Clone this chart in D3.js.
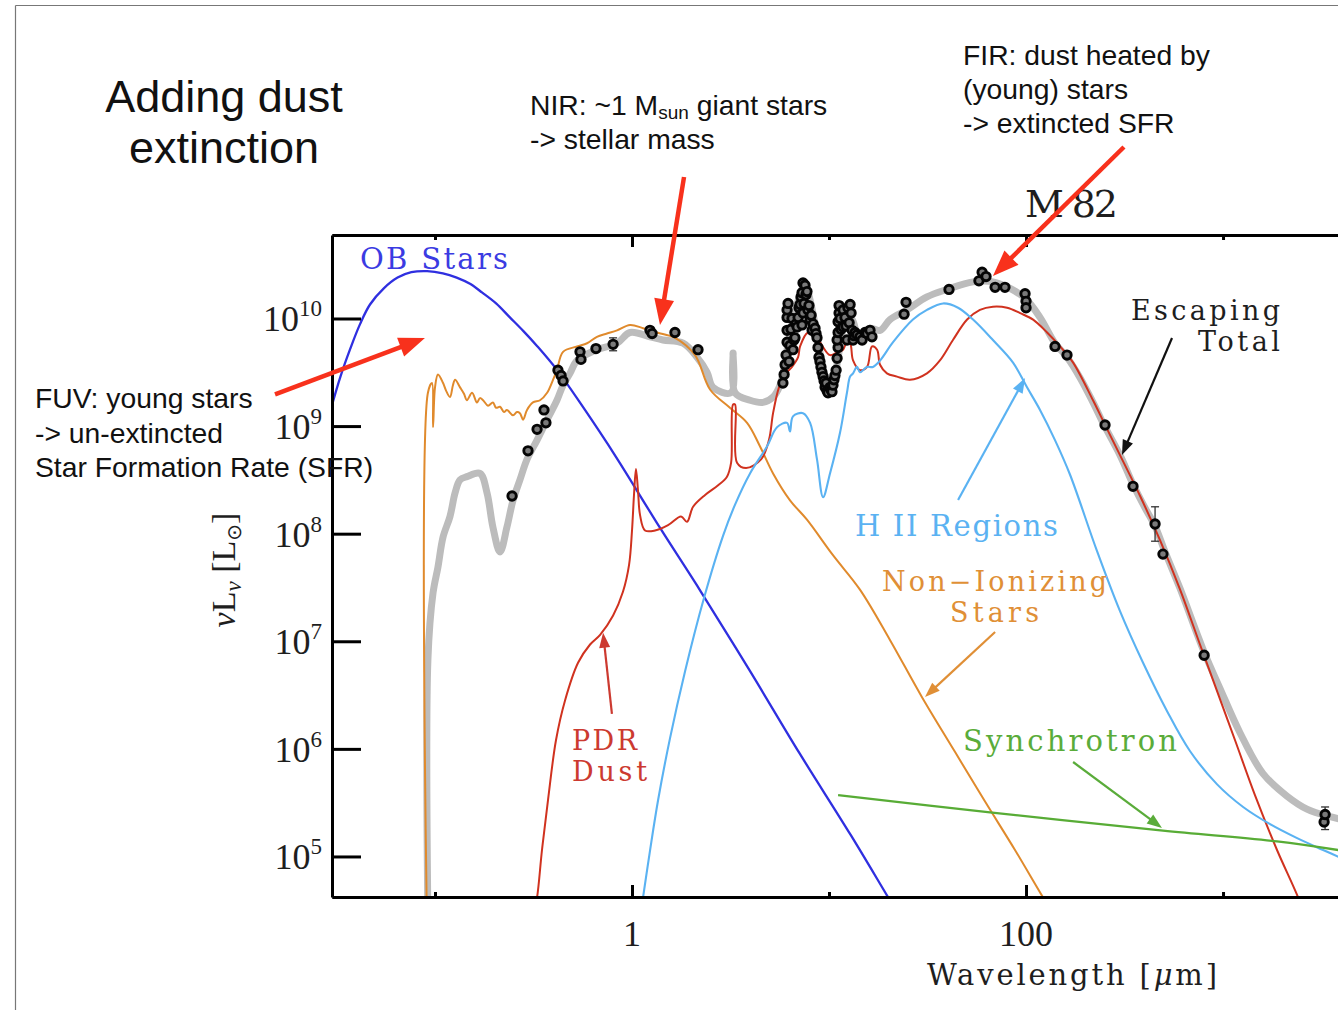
<!DOCTYPE html>
<html>
<head>
<meta charset="utf-8">
<script src="https://cdn.jsdelivr.net/npm/d3@7"></script>
<style>
  html, body { margin: 0; padding: 0; background: #fff; }
  svg { display: block; }
</style>
</head>
<body>
<svg id="chart" width="1338" height="1010"></svg>
<script>
// Spectral energy distribution of M 82.
// Every pair is [log10 wavelength (µm), log10 νLν (L☉)].

const obStars = [
  [-1.53, 9.15], [-1.48, 9.46], [-1.43, 9.72], [-1.38, 9.95], [-1.33, 10.13], [-1.26, 10.28],
  [-1.19, 10.38], [-1.12, 10.43], [-1.04, 10.44], [-0.96, 10.42], [-0.89, 10.38], [-0.82, 10.32],
  [-0.76, 10.24], [-0.69, 10.14], [-0.62, 10.01], [-0.55, 9.88], [-0.48, 9.74], [-0.38, 9.52],
  [-0.25, 9.18], [-0.08, 8.71], [0.14, 8.06], [0.35, 7.46], [0.60, 6.72], [0.85, 5.96],
  [1.11, 5.20], [1.30, 4.62], [1.46, 4.13]
];

const nonIonizingStars = [
  [-1.041, 4.41], [-1.036, 9.31], [-1.015, 9.40], [-1.010, 8.99], [-1.000, 9.36], [-0.985, 9.48],
  [-0.959, 9.40], [-0.944, 9.33], [-0.924, 9.27], [-0.909, 9.38], [-0.898, 9.43], [-0.873, 9.36],
  [-0.853, 9.30], [-0.838, 9.24], [-0.812, 9.31], [-0.787, 9.22], [-0.772, 9.26], [-0.756, 9.24],
  [-0.731, 9.19], [-0.706, 9.22], [-0.690, 9.17], [-0.670, 9.18], [-0.650, 9.13], [-0.635, 9.15],
  [-0.604, 9.10], [-0.584, 9.13], [-0.569, 9.12], [-0.553, 9.06], [-0.533, 9.15], [-0.503, 9.22],
  [-0.467, 9.24], [-0.431, 9.31], [-0.401, 9.43], [-0.381, 9.52], [-0.350, 9.69], [-0.279, 9.74],
  [-0.228, 9.77], [-0.178, 9.83], [-0.127, 9.86], [-0.076, 9.89], [-0.010, 9.94], [0.056, 9.91],
  [0.127, 9.87], [0.218, 9.82], [0.320, 9.66], [0.396, 9.34], [0.497, 9.17], [0.584, 9.03],
  [0.650, 8.81], [0.716, 8.56], [0.802, 8.31], [0.888, 8.13], [1.020, 7.80], [1.157, 7.48],
  [1.310, 7.01], [1.472, 6.48], [1.640, 5.97], [1.792, 5.51], [1.944, 5.06], [2.086, 4.62],
  [2.147, 4.44]
];

const pdrDust = [
  [-0.497, 4.50], [-0.482, 4.62], [-0.457, 5.06], [-0.426, 5.53], [-0.386, 6.08], [-0.340, 6.45],
  [-0.274, 6.80], [-0.213, 6.97], [-0.162, 7.06], [-0.096, 7.24], [-0.046, 7.46], [-0.015, 7.71],
  [0.000, 8.03], [0.010, 8.36], [0.020, 8.60], [0.030, 8.41], [0.041, 8.17], [0.066, 8.03],
  [0.117, 8.03], [0.183, 8.08], [0.249, 8.16], [0.279, 8.11], [0.310, 8.25], [0.371, 8.36],
  [0.437, 8.45], [0.482, 8.53], [0.503, 8.66], [0.513, 9.20], [0.523, 9.20], [0.533, 8.66],
  [0.579, 8.61], [0.655, 8.69], [0.695, 8.87], [0.716, 9.12], [0.746, 9.36], [0.777, 9.48],
  [0.812, 9.55], [0.843, 9.64], [0.853, 9.74], [0.893, 9.87], [0.929, 9.85], [0.964, 9.75],
  [1.005, 9.66], [1.046, 9.69], [1.071, 9.71], [1.091, 9.78], [1.107, 9.77], [1.122, 9.61],
  [1.157, 9.52], [1.193, 9.55], [1.218, 9.74], [1.244, 9.71], [1.259, 9.57], [1.294, 9.49],
  [1.345, 9.46], [1.411, 9.43], [1.497, 9.49], [1.563, 9.61], [1.629, 9.80], [1.701, 9.99],
  [1.766, 10.08], [1.832, 10.11], [1.904, 10.10], [1.970, 10.05], [2.036, 9.99], [2.107, 9.87],
  [2.173, 9.74], [2.239, 9.59], [2.340, 9.24], [2.396, 9.03], [2.477, 8.73], [2.579, 8.35],
  [2.680, 7.94], [2.782, 7.48], [2.883, 6.97], [2.959, 6.59], [3.061, 6.08], [3.162, 5.57],
  [3.274, 5.06], [3.381, 4.62], [3.442, 4.32]
];

const hiiRegions = [
  [0.046, 4.50], [0.056, 4.62], [0.091, 5.05], [0.132, 5.52], [0.193, 6.10], [0.269, 6.72],
  [0.365, 7.40], [0.462, 7.98], [0.523, 8.27], [0.599, 8.56], [0.685, 8.81], [0.736, 8.99],
  [0.787, 9.03], [0.802, 8.95], [0.817, 9.09], [0.868, 9.12], [0.904, 9.03], [0.939, 8.69],
  [0.970, 8.34], [1.005, 8.56], [1.056, 8.94], [1.091, 9.31], [1.107, 9.46], [1.122, 9.49],
  [1.142, 9.55], [1.157, 9.50], [1.193, 9.55], [1.223, 9.55], [1.259, 9.61], [1.325, 9.78],
  [1.426, 9.99], [1.497, 10.08], [1.579, 10.14], [1.655, 10.10], [1.731, 9.99], [1.832, 9.80],
  [1.934, 9.59], [2.005, 9.36], [2.071, 9.15], [2.147, 8.87], [2.223, 8.55], [2.360, 7.84],
  [2.477, 7.28], [2.594, 6.80], [2.716, 6.35], [2.832, 5.98], [2.970, 5.67], [3.102, 5.46],
  [3.239, 5.30], [3.376, 5.17], [3.508, 5.06], [3.619, 4.97]
];

const synchrotron = [
  [1.046, 5.57], [1.817, 5.41], [2.695, 5.24], [3.274, 5.14], [3.619, 5.05]
];

const escapingTotal = [
  [-1.036, 4.41], [-1.036, 6.83], [-1.010, 7.45], [-0.985, 7.69], [-0.959, 7.97], [-0.924, 8.16],
  [-0.898, 8.38], [-0.873, 8.50], [-0.838, 8.53], [-0.772, 8.56], [-0.736, 8.38], [-0.706, 8.06],
  [-0.670, 7.83], [-0.635, 8.06], [-0.604, 8.31], [-0.569, 8.50], [-0.533, 8.69], [-0.482, 8.87],
  [-0.431, 9.06], [-0.381, 9.24], [-0.350, 9.38], [-0.315, 9.49], [-0.279, 9.61], [-0.178, 9.71],
  [-0.076, 9.77], [-0.010, 9.87], [0.091, 9.83], [0.157, 9.80], [0.259, 9.77], [0.330, 9.64],
  [0.381, 9.50], [0.411, 9.36], [0.503, 9.31], [0.513, 9.68], [0.523, 9.31], [0.599, 9.24],
  [0.665, 9.22], [0.716, 9.27], [0.751, 9.38], [0.787, 9.71], [0.817, 9.99], [0.853, 10.22],
  [0.878, 10.33], [0.904, 10.17], [0.939, 9.85], [0.975, 9.48], [1.000, 9.34], [1.030, 9.48],
  [1.061, 9.80], [1.086, 10.01], [1.117, 9.99], [1.147, 9.85], [1.178, 9.87], [1.208, 9.91],
  [1.259, 9.89], [1.310, 9.99], [1.396, 10.08], [1.497, 10.20], [1.599, 10.27], [1.731, 10.34],
  [1.832, 10.34], [1.919, 10.28], [2.000, 10.18], [2.071, 10.01], [2.147, 9.77], [2.208, 9.64],
  [2.274, 9.45], [2.340, 9.22], [2.396, 9.01], [2.477, 8.73], [2.543, 8.46], [2.604, 8.24],
  [2.655, 8.07], [2.706, 7.83], [2.782, 7.49], [2.904, 6.90], [2.985, 6.56], [3.086, 6.15],
  [3.203, 5.77], [3.325, 5.56], [3.426, 5.44], [3.543, 5.37], [3.645, 5.33]
];

const observedPoints = [
  // UV - near-IR photometry
  [-0.609, 8.35], [-0.528, 8.77], [-0.482, 8.97], [-0.447, 9.15], [-0.437, 9.03], [-0.376, 9.52],
  [-0.360, 9.47], [-0.350, 9.42], [-0.264, 9.69], [-0.259, 9.62], [-0.183, 9.72], [-0.096, 9.76],
  [0.091, 9.89], [0.102, 9.86], [0.218, 9.87], [0.335, 9.71],
  // mid-IR spectrum
  [0.766, 9.40], [0.772, 9.48], [0.777, 9.57], [0.782, 9.66], [0.787, 9.78], [0.787, 9.89],
  [0.787, 10.01], [0.787, 10.08], [0.792, 10.14], [0.797, 9.60], [0.802, 9.75], [0.807, 9.90],
  [0.812, 10.00], [0.817, 9.71], [0.822, 9.80], [0.827, 9.82], [0.832, 9.95], [0.838, 9.92],
  [0.843, 10.01], [0.848, 10.10], [0.853, 10.13], [0.858, 10.20], [0.863, 10.24], [0.868, 10.33],
  [0.878, 10.31], [0.883, 10.22], [0.888, 10.25], [0.873, 10.14], [0.868, 10.05], [0.863, 9.94],
  [0.893, 10.08], [0.898, 10.12], [0.904, 9.99], [0.909, 10.03], [0.914, 9.89], [0.919, 9.95],
  [0.929, 9.91], [0.934, 9.86], [0.939, 9.82], [0.944, 9.73], [0.949, 9.64], [0.954, 9.60],
  [0.959, 9.55], [0.964, 9.50], [0.970, 9.46], [0.975, 9.42], [0.980, 9.36], [0.985, 9.40],
  [0.990, 9.33], [0.995, 9.31], [1.005, 9.36], [1.010, 9.34], [1.015, 9.32], [1.020, 9.38],
  [1.025, 9.43], [1.030, 9.47], [1.036, 9.52], [1.041, 9.63], [1.046, 9.73], [1.041, 9.80],
  [1.046, 9.87], [1.046, 9.97], [1.051, 10.05], [1.051, 10.12], [1.056, 10.00], [1.061, 9.90],
  [1.071, 10.08], [1.081, 10.01], [1.071, 9.92], [1.086, 9.93], [1.091, 9.80], [1.096, 10.10],
  [1.102, 9.96], [1.107, 10.13], [1.112, 10.05], [1.117, 9.89], [1.122, 9.80], [1.127, 9.84],
  [1.132, 9.87], [1.142, 9.85], [1.157, 9.83], [1.168, 9.80], [1.183, 9.87], [1.193, 9.86],
  [1.208, 9.89], [1.218, 9.83],
  // far-IR to radio photometry
  [1.381, 10.04], [1.391, 10.15], [1.609, 10.27], [1.761, 10.35], [1.777, 10.43], [1.797, 10.39],
  [1.843, 10.29], [1.893, 10.29], [1.995, 10.23], [2.000, 10.16], [2.000, 10.10], [2.147, 9.74],
  [2.208, 9.66], [2.401, 9.01], [2.543, 8.44], [2.655, 8.09], [2.695, 7.81], [2.904, 6.87],
  [3.513, 5.32], [3.518, 5.39]
];

// [log10 λ, lower, upper]
const errorBars = [
  [-0.096, 9.70, 9.82], [2.655, 7.93, 8.25], [3.518, 5.25, 5.46]
];

const yTickExponents = [5, 6, 7, 8, 9, 10];
const xMajorTicks = [1, 100];
const xMajorLabels = ["1", "100"];
const xMinorTicks = [0.1, 10, 1000];

// ---------------------------------------------------------------
const svg = d3.select("#chart");
const x = d3.scaleLog().domain([0.03, 4160]).range([332, 1345]);
const y = d3.scaleLog().domain([4.2e4, 5.97e10]).range([897, 235]);
const px = d => x(Math.pow(10, d[0]));
const py = d => y(Math.pow(10, d[1]));

const line = d3.line().x(px).y(py).curve(d3.curveCatmullRom.alpha(0.5));

// slide frame
svg.append("line").attr("x1", 15.5).attr("y1", 5.5).attr("x2", 1338).attr("y2", 5.5)
  .attr("stroke", "#777").attr("stroke-width", 1.2);
svg.append("line").attr("x1", 15.5).attr("y1", 5.5).attr("x2", 15.5).attr("y2", 1010)
  .attr("stroke", "#777").attr("stroke-width", 1.2);

svg.append("defs").append("clipPath").attr("id", "plotArea")
  .append("rect").attr("x", 332).attr("y", 235).attr("width", 1013).attr("height", 662);

const plot = svg.append("g").attr("clip-path", "url(#plotArea)");

plot.append("path").datum(escapingTotal).attr("d", line)
  .attr("fill", "none").attr("stroke", "#bcbcbc").attr("stroke-width", 7)
  .attr("stroke-linejoin", "round").attr("stroke-linecap", "round");

const components = [
  { data: nonIonizingStars, color: "#e08a2c", width: 2 },
  { data: obStars, color: "#2f2fe0", width: 2.3 },
  { data: pdrDust, color: "#d0321f", width: 2 },
  { data: hiiRegions, color: "#5ab2f2", width: 2.1 },
  { data: synchrotron, color: "#58ac36", width: 2.3 }
];
components.forEach(c => {
  plot.append("path").datum(c.data).attr("d", line)
    .attr("fill", "none").attr("stroke", c.color).attr("stroke-width", c.width)
    .attr("stroke-linejoin", "round");
});

// observed photometry and spectrum
const obs = svg.append("g");
obs.selectAll("line.err").data(errorBars).join("line").attr("class", "err")
  .attr("x1", px).attr("x2", px)
  .attr("y1", d => y(Math.pow(10, d[1]))).attr("y2", d => y(Math.pow(10, d[2])))
  .attr("stroke", "#333").attr("stroke-width", 1.3);
errorBars.forEach(d => {
  [d[1], d[2]].forEach(v => {
    obs.append("line").attr("x1", px(d) - 4).attr("x2", px(d) + 4)
      .attr("y1", y(Math.pow(10, v))).attr("y2", y(Math.pow(10, v)))
      .attr("stroke", "#333").attr("stroke-width", 1.3);
  });
});
obs.selectAll("circle").data(observedPoints).join("circle")
  .attr("cx", px).attr("cy", py).attr("r", 4.2)
  .attr("fill", "#7a7a7a").attr("stroke", "#050505").attr("stroke-width", 2.9);

// axes with inward ticks
const styleAxis = g => {
  g.selectAll(".domain").attr("stroke", "#000").attr("stroke-width", 3);
  g.selectAll(".tick line").attr("stroke", "#000").attr("stroke-width", 3);
  g.selectAll(".tick text").remove();
};
const yTickValues = yTickExponents.map(e => Math.pow(10, e));
svg.append("g").attr("transform", "translate(332,0)")
  .call(d3.axisLeft(y).tickValues(yTickValues).tickSize(-29).tickSizeOuter(0)).call(styleAxis);
svg.append("g").attr("transform", "translate(0,897)")
  .call(d3.axisBottom(x).tickValues(xMajorTicks).tickSize(-12).tickSizeOuter(0)).call(styleAxis);
svg.append("g").attr("transform", "translate(0,897)")
  .call(d3.axisBottom(x).tickValues(xMinorTicks).tickSize(-5).tickSizeOuter(0)).call(styleAxis);
svg.append("g").attr("transform", "translate(0,235)")
  .call(d3.axisTop(x).tickValues(xMajorTicks).tickSize(-12).tickSizeOuter(0)).call(styleAxis);
svg.append("g").attr("transform", "translate(0,235)")
  .call(d3.axisTop(x).tickValues(xMinorTicks).tickSize(-5).tickSizeOuter(0)).call(styleAxis);

const numFont = "'Liberation Serif', 'Times New Roman', serif";
const labFont = "'DejaVu Serif', serif";
const sansFont = "'Liberation Sans', Arial, Helvetica, sans-serif";

yTickExponents.forEach(e => {
  const t = svg.append("text").attr("x", 322).attr("y", y(Math.pow(10, e)) + 13)
    .attr("text-anchor", "end").attr("font-family", numFont).attr("font-size", 36).attr("fill", "#1e1e1e");
  t.append("tspan").text("10");
  t.append("tspan").attr("font-size", 23).attr("dy", -15).text(e);
});
xMajorTicks.forEach((v, i) => {
  svg.append("text").attr("x", x(v)).attr("y", 946).attr("text-anchor", "middle")
    .attr("font-family", numFont).attr("font-size", 36).attr("fill", "#1e1e1e").text(xMajorLabels[i]);
});

// axis titles
const xt = svg.append("text").attr("x", 927).attr("y", 985)
  .attr("font-family", labFont).attr("font-size", 29).attr("fill", "#1e1e1e")
  .attr("textLength", 290).attr("lengthAdjust", "spacing");
xt.append("tspan").text("Wavelength [");
xt.append("tspan").attr("font-style", "italic").text("μ");
xt.append("tspan").text("m]");

const yt = svg.append("text").attr("transform", "translate(235,570) rotate(-90)")
  .attr("text-anchor", "middle").attr("font-family", numFont).attr("font-size", 34).attr("fill", "#1e1e1e");
yt.append("tspan").attr("font-style", "italic").text("ν");
yt.append("tspan").text("L");
yt.append("tspan").attr("font-style", "italic").attr("font-size", 23).attr("dy", 6).text("ν");
yt.append("tspan").attr("dy", -6).text(" [L");
yt.append("tspan").attr("font-size", 20).attr("dy", 6).attr("font-family", "'DejaVu Sans', sans-serif").text("⊙");
yt.append("tspan").attr("dy", -6).text("]");

// component labels inside the plot
const plotLabels = [
  { text: "OB Stars", x: 360, y: 269, w: 148, color: "#3b3be2", size: 29 },
  { text: "M 82", x: 1025, y: 217, w: 93, color: "#1e1e1e", size: 38 },
  { text: "Escaping", x: 1131, y: 320, w: 149, color: "#1e1e1e", size: 27 },
  { text: "Total", x: 1198, y: 351, w: 82, color: "#1e1e1e", size: 27 },
  { text: "H II Regions", x: 855, y: 536, w: 203, color: "#5ab2f2", size: 29 },
  { text: "Non−Ionizing", x: 882, y: 591, w: 225, color: "#e08f36", size: 27 },
  { text: "Stars", x: 950, y: 622, w: 89, color: "#e08f36", size: 27 },
  { text: "PDR", x: 572, y: 750, w: 65, color: "#cc3a30", size: 27 },
  { text: "Dust", x: 572, y: 781, w: 75, color: "#cc3a30", size: 27 },
  { text: "Synchrotron", x: 963, y: 751, w: 214, color: "#5aac3a", size: 29 }
];
plotLabels.forEach(l => {
  svg.append("text").attr("x", l.x).attr("y", l.y)
    .attr("font-family", labFont).attr("font-size", l.size).attr("fill", l.color)
    .attr("textLength", l.w).attr("lengthAdjust", "spacing").text(l.text);
});

// arrows, given in data coordinates
function arrow(from, to, color, width, headLen, headWid) {
  const x0 = px(from), y0 = py(from), x1 = px(to), y1 = py(to);
  const dx = x1 - x0, dy = y1 - y0, len = Math.hypot(dx, dy);
  const ux = dx / len, uy = dy / len;
  const bx = x1 - ux * headLen, by = y1 - uy * headLen;
  svg.append("line").attr("x1", x0).attr("y1", y0)
    .attr("x2", x1 - ux * headLen * 0.7).attr("y2", y1 - uy * headLen * 0.7)
    .attr("stroke", color).attr("stroke-width", width);
  svg.append("path")
    .attr("d", `M${x1},${y1}L${bx - uy * headWid / 2},${by + ux * headWid / 2}L${bx + uy * headWid / 2},${by - ux * headWid / 2}Z`)
    .attr("fill", color);
}

const labelArrows = [
  { from: [-0.102, 6.325], to: [-0.147, 7.080], color: "#cc3a30" },
  { from: [1.655, 8.313], to: [1.995, 9.447], color: "#5ab2f2" },
  { from: [1.843, 7.086], to: [1.487, 6.482], color: "#e08f36" },
  { from: [2.239, 5.878], to: [2.690, 5.265], color: "#5aac3a" },
  { from: [2.741, 9.819], to: [2.487, 8.731], color: "#111" }
];
labelArrows.forEach(a => arrow(a.from, a.to, a.color, 2.2, 15, 11));

// slide text
const title = svg.append("text").attr("font-family", sansFont).attr("font-size", 45)
  .attr("fill", "#111").attr("text-anchor", "middle");
title.append("tspan").attr("x", 224).attr("y", 112).text("Adding dust");
title.append("tspan").attr("x", 224).attr("y", 163).text("extinction");

const noteSize = 28.3;
const notes = [
  { x: 35, lines: [[408, "FUV: young stars"], [443, "-> un-extincted"], [477, "Star Formation Rate (SFR)"]] },
  { x: 963, lines: [[65, "FIR: dust heated by"], [99, "(young) stars"], [133, "-> extincted SFR"]] }
];
notes.forEach(n => {
  n.lines.forEach(([ly, s]) => {
    svg.append("text").attr("x", n.x).attr("y", ly).attr("font-family", sansFont)
      .attr("font-size", noteSize).attr("fill", "#111").text(s);
  });
});
const nir = svg.append("text").attr("x", 530).attr("y", 115).attr("font-family", sansFont)
  .attr("font-size", noteSize).attr("fill", "#111");
nir.append("tspan").text("NIR: ~1 M");
nir.append("tspan").attr("font-size", 19).attr("dy", 4).text("sun");
nir.append("tspan").attr("dy", -4).text(" giant stars");
svg.append("text").attr("x", 530).attr("y", 149).attr("font-family", sansFont)
  .attr("font-size", noteSize).attr("fill", "#111").text("-> stellar mass");

const noteArrows = [
  { from: [0.264, 11.315], to: [0.142, 9.94] },
  { from: [2.497, 11.594], to: [1.832, 10.395] },
  { from: [-1.812, 9.294], to: [-1.051, 9.819] }
];
noteArrows.forEach(a => arrow(a.from, a.to, "#f8311c", 4.5, 26, 20));
</script>
</body>
</html>
